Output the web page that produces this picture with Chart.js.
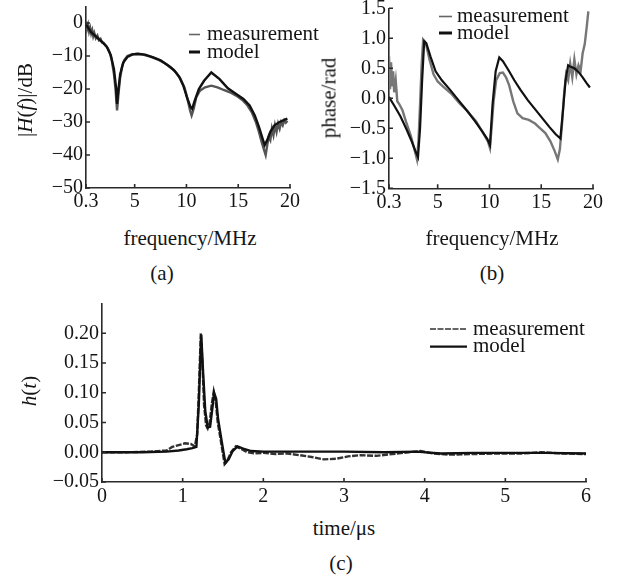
<!DOCTYPE html>
<html lang="en">
<head>
<meta charset="UTF-8">
<title>Channel response: measurement vs model</title>
<style>
  body { margin: 0; background: #fff; }
  #page { position: relative; width: 618px; height: 575px; overflow: hidden;
          font-family: "Liberation Serif", "Times New Roman", serif; color: #151515; }
  canvas { position: absolute; }
  .lbl { position: absolute; font-size: 21px; line-height: 1; white-space: nowrap;
         transform: translate(-50%, -50%); }
  .rot { transform: translate(-50%, -50%) rotate(-90deg); }
</style>
</head>
<body>
<div id="page">
  <canvas id="chartA" width="335" height="215" style="left:0;top:0"></canvas>
  <canvas id="chartB" width="318" height="215" style="left:300px;top:0"></canvas>
  <canvas id="chartC" width="618" height="225" style="left:0;top:290px"></canvas>

  <div class="lbl rot" style="left:25px;top:100px">|<i>H</i>(<i>f</i>)|/dB</div>
  <div class="lbl" style="left:190px;top:238px">frequency/MHz</div>
  <div class="lbl" style="left:162px;top:273px">(a)</div>

  <div class="lbl rot" style="left:329px;top:98px">phase/rad</div>
  <div class="lbl" style="left:492px;top:238px">frequency/MHz</div>
  <div class="lbl" style="left:492px;top:273px">(b)</div>

  <div class="lbl rot" style="left:29px;top:391px"><i>h</i>(<i>t</i>)</div>
  <div class="lbl" style="left:344px;top:528px">time/&mu;s</div>
  <div class="lbl" style="left:341px;top:563px">(c)</div>
</div>

<script src="https://cdn.jsdelivr.net/npm/chart.js"></script>
<script>
// ---- values ----
const seriesNames = ['measurement', 'model'];

// (a) magnitude |H(f)| in dB
const magFreqMeas = [0.3, 0.4, 0.5, 0.6, 0.7, 0.8, 0.9, 1.0, 1.1, 1.25, 1.4, 1.55, 1.7, 1.85, 2.0, 2.2, 2.4, 2.6, 2.8, 3.0,
  3.15, 3.3, 3.45, 3.6, 3.8, 4.0, 4.3, 4.7, 5.2, 5.8, 6.5, 7.2, 7.9, 8.5, 9.0, 9.4, 9.8, 10.1, 10.35, 10.5,
  10.7, 10.95, 11.3, 11.8, 12.4, 13.0, 13.6, 14.2, 14.8, 15.4, 15.9, 16.3, 16.7, 17.0, 17.3, 17.5, 17.65, 17.8, 17.95, 18.1,
  18.25, 18.4, 18.55, 18.7, 18.85, 19.0, 19.15, 19.3, 19.45, 19.6, 19.75];
const magMeas = [0.5, -1.8, -0.6, -2.6, -1.5, -3.2, -2.2, -4.0, -3.0, -4.6, -3.8, -5.2, -4.8, -5.9, -6.0, -6.8, -7.6, -9.0, -11.5, -15.5,
  -20, -26.5, -21, -16.5, -13, -11.2, -10, -9.5, -9.4, -9.6, -10.2, -11, -12.2, -13.5, -15, -16.8, -19.5, -23, -26.5, -28,
  -26, -22.5, -20.5, -19.5, -19, -19.5, -20.3, -21, -22, -23.3, -25, -27, -30, -33, -36.5, -38.5, -40, -37, -34.5, -35.5,
  -32, -34, -31, -33, -30.5, -32, -30, -31, -29.5, -30.2, -29.6];
const magFreqModel = [0.3, 0.8, 1.3, 1.8, 2.3, 2.7, 3.0, 3.2, 3.3, 3.4, 3.6, 3.9, 4.3, 4.8, 5.3, 6.0, 6.8, 7.5, 8.2, 8.8,
  9.3, 9.7, 10.1, 10.4, 10.55, 10.8, 11.2, 11.7, 12.4, 13.2, 14.0, 14.8, 15.5, 16.1, 16.6, 17.0, 17.3, 17.55, 17.8, 18.1,
  18.5, 19.0, 19.5, 19.75];
const magModel = [-0.5, -2.8, -4.2, -5.6, -7.2, -9.8, -14, -19.5, -24.5, -21, -15.5, -12, -10.3, -9.5, -9.3, -9.6, -10.4, -11.3, -12.8, -14.3,
  -16.3, -19, -23, -25.5, -26, -23.5, -20, -17.5, -15, -17, -19.8, -21.5, -23, -25, -28, -31.5, -34.5, -37, -35.5, -33,
  -31, -30, -29.3, -29];

// (b) phase in rad
const phaseFreqMeas = [0.3, 0.4, 0.5, 0.6, 0.7, 0.8, 0.95, 1.1, 1.3, 1.6, 2.0, 2.4, 2.75, 3.0, 3.15, 3.3, 3.45, 3.6, 3.75, 3.9,
  4.2, 4.6, 5.0, 5.5, 6.3, 7.1, 7.9, 8.7, 9.4, 9.85, 10.05, 10.2, 10.4, 10.65, 11.0, 11.3, 11.6, 11.9, 12.3, 12.7,
  13.2, 13.8, 14.4, 14.9, 15.4, 15.9, 16.3, 16.6, 16.8, 17.0, 17.2, 17.4, 17.6, 17.8, 18.0, 18.2, 18.4, 18.6, 18.8, 19.0,
  19.2, 19.4, 19.55];
const phaseMeas = [0.7, 0.15, 0.6, 0.2, 0.45, 0.1, 0.3, -0.05, -0.1, -0.2, -0.42, -0.62, -0.85, -1.02, -0.7, -0.1, 0.55, 0.98, 0.95, 0.88,
  0.65, 0.4, 0.28, 0.2, 0.08, -0.08, -0.22, -0.38, -0.58, -0.72, -0.83, -0.5, -0.05, 0.3, 0.42, 0.43, 0.35, 0.22, -0.05, -0.25,
  -0.33, -0.36, -0.42, -0.5, -0.58, -0.72, -0.88, -1.02, -0.85, -0.45, 0.05, 0.4, 0.3, 0.58, 0.35, 0.65, 0.4, 0.55, 0.45, 0.75,
  0.9, 1.2, 1.45];
const phaseFreqModel = [0.3, 0.8, 1.4, 2.0, 2.5, 2.9, 3.1, 3.3, 3.5, 3.7, 3.9, 4.3, 4.8, 5.4, 6.2, 7.0, 7.8, 8.6, 9.3, 9.8,
  10.05, 10.3, 10.6, 10.95, 11.3, 11.8, 12.4, 13.0, 13.7, 14.4, 15.1, 15.8, 16.4, 16.85, 17.1, 17.35, 17.6, 17.9, 18.2, 18.6,
  19.0, 19.4, 19.7];
const phaseModel = [0.02, -0.12, -0.3, -0.52, -0.72, -0.9, -0.98, -0.5, 0.3, 0.95, 0.92, 0.7, 0.45, 0.3, 0.14, -0.03, -0.2, -0.38, -0.55, -0.68,
  -0.78, -0.1, 0.45, 0.68, 0.62, 0.48, 0.3, 0.14, -0.03, -0.18, -0.33, -0.48, -0.6, -0.67, -0.2, 0.3, 0.55, 0.52, 0.5, 0.44,
  0.35, 0.25, 0.18];

// (c) impulse response h(t), t in us
const timeMeas = [0, 0.3, 0.6, 0.8, 0.87, 0.95, 1.03, 1.1, 1.15, 1.18, 1.2, 1.225, 1.245, 1.265, 1.29, 1.31, 1.335, 1.36, 1.385, 1.41,
  1.435, 1.46, 1.49, 1.52, 1.55, 1.6, 1.66, 1.72, 1.8, 1.9, 2.0, 2.15, 2.3, 2.45, 2.6, 2.75, 2.9, 3.05, 3.2, 3.4,
  3.6, 3.8, 3.95, 4.1, 4.3, 4.6, 4.9, 5.2, 5.45, 5.7, 6.0];
const hMeas = [0, 0, 0.001, 0.003, 0.009, 0.012, 0.015, 0.014, 0.01, 0.03, 0.1, 0.2, 0.15, 0.08, 0.045, 0.04, 0.05, 0.08, 0.102, 0.085,
  0.05, 0.03, 0.005, -0.02, -0.015, 0.0, 0.01, 0.006, 0.0, -0.002, -0.001, -0.003, -0.002, -0.005, -0.008, -0.012, -0.011, -0.007, -0.005, -0.006,
  -0.003, 0.0, 0.002, -0.002, -0.004, -0.003, -0.002, -0.002, 0.0, -0.002, -0.003];
const timeModel = [0, 0.5, 0.8, 0.95, 1.05, 1.12, 1.17, 1.2, 1.23, 1.255, 1.28, 1.31, 1.34, 1.365, 1.39, 1.415, 1.44, 1.47, 1.5, 1.53,
  1.57, 1.62, 1.68, 1.75, 1.85, 2.0, 2.5, 3.0, 3.5, 3.9, 4.2, 4.6, 5.0, 5.5, 6.0];
const hModel = [0, 0, 0.001, 0.003, 0.005, 0.007, 0.009, 0.08, 0.198, 0.13, 0.07, 0.042, 0.043, 0.07, 0.1, 0.09, 0.055, 0.03, 0.005, -0.018,
  -0.012, 0.002, 0.01, 0.006, 0.002, 0.001, 0.001, 0.001, 0.0, 0.001, -0.002, -0.001, -0.001, -0.001, -0.002];

// tick values
const freqTicks = [0.3, 5, 10, 15, 20];
const magTicks = [-50, -40, -30, -20, -10, 0];
const phaseTicks = [-1.5, -1.0, -0.5, 0, 0.5, 1.0, 1.5];
const timeTicks = [0, 1, 2, 3, 4, 5, 6];
const hTicks = [-0.05, 0, 0.05, 0.10, 0.15, 0.20];

const FONT = '"Liberation Serif", "Times New Roman", serif';
const INK = '#151515';
const minus = s => s.replace('-', '\u2212');

function pts(xs, ys) {
  return xs.map((x, i) => ({ x: x, y: ys[i] }));
}

// short tick marks pointing into the plot, like the original figure
const inwardTicks = {
  id: 'inwardTicks',
  afterDraw(chart) {
    const ctx = chart.ctx, a = chart.chartArea;
    const sx = chart.scales.x, sy = chart.scales.y;
    ctx.save();
    ctx.strokeStyle = '#2a2a2a';
    ctx.lineWidth = 1.6;
    ctx.beginPath();
    sx.ticks.forEach(t => {
      const p = sx.getPixelForValue(t.value);
      ctx.moveTo(p, a.bottom); ctx.lineTo(p, a.bottom - 4);
    });
    sy.ticks.forEach(t => {
      const p = sy.getPixelForValue(t.value);
      ctx.moveTo(a.left, p); ctx.lineTo(a.left + 4, p);
    });
    ctx.stroke();
    ctx.restore();
  }
};

// legend drawn at a fixed spot inside the plot
const paperLegend = {
  id: 'paperLegend',
  afterDraw(chart, args, opts) {
    const ctx = chart.ctx;
    ctx.save();
    ctx.font = '21px ' + FONT;
    ctx.textBaseline = 'middle';
    chart.data.datasets.forEach((ds, i) => {
      const y = opts.y + i * opts.row;
      ctx.strokeStyle = ds.keyColor || ds.borderColor;
      ctx.lineWidth = ds.keyWidth || ds.borderWidth;
      ctx.setLineDash(ds.borderDash || []);
      ctx.beginPath();
      ctx.moveTo(opts.x, y);
      ctx.lineTo(opts.x + opts.len, y);
      ctx.stroke();
      ctx.setLineDash([]);
      ctx.fillStyle = INK;
      ctx.fillText(ds.label, opts.x + opts.len + opts.gap, y);
    });
    ctx.restore();
  }
};

// area = plot rectangle inside the canvas {l, t, r, b}
function makeChart(id, area, xCfg, yCfg, datasets, legend) {
  const canvas = document.getElementById(id);
  const w = canvas.width, h = canvas.height;
  const axis = (cfg, fix) => ({
    type: 'linear',
    min: cfg.min,
    max: cfg.max,
    grid: { display: false, drawTicks: false },
    border: { display: true, color: '#2a2a2a', width: 1.6 },
    ticks: {
      color: INK,
      font: { family: FONT, size: 20 },
      padding: cfg.pad,
      autoSkip: false,
      maxRotation: 0,
      callback: cfg.fmt
    },
    afterBuildTicks: s => { s.ticks = cfg.ticks.map(v => ({ value: v })); },
    afterFit: fix
  });
  return new Chart(canvas, {
    type: 'line',
    data: { datasets: datasets },
    options: {
      responsive: false,
      animation: false,
      events: [],
      layout: { padding: { left: 0, top: area.t, right: w - area.r, bottom: 0 } },
      elements: { point: { radius: 0 }, line: { tension: 0 } },
      scales: {
        x: axis(xCfg, s => { s.height = h - area.b; s.paddingLeft = 0; s.paddingRight = 0; }),
        y: axis(yCfg, s => { s.width = area.l; s.paddingTop = 0; s.paddingBottom = 0; })
      },
      plugins: {
        legend: { display: false },
        tooltip: { enabled: false },
        paperLegend: legend
      }
    },
    plugins: [inwardTicks, paperLegend]
  });
}

const freqAxis = { min: 0.3, max: 20, ticks: freqTicks, pad: 2, fmt: v => String(v) };

// (a)
makeChart('chartA', { l: 86, t: 6.5, r: 290, b: 188 },
  freqAxis,
  { min: -50, max: 5, ticks: magTicks, pad: 3, fmt: v => minus(String(v)) },
  [
    { label: seriesNames[0], data: pts(magFreqMeas, magMeas), borderColor: '#555', borderWidth: 2.4,
      keyWidth: 1.6, keyColor: '#666', order: 1 },
    { label: seriesNames[1], data: pts(magFreqModel, magModel), borderColor: '#111', borderWidth: 2.4,
      keyWidth: 3, order: 0 }
  ],
  { x: 189, y: 34.5, row: 17.5, len: 11, gap: 7 });

// (b)
makeChart('chartB', { l: 89, t: 8.3, r: 293, b: 188.3 },
  freqAxis,
  { min: -1.5, max: 1.5, ticks: phaseTicks, pad: 3, fmt: v => minus(v.toFixed(1)) },
  [
    { label: seriesNames[0], data: pts(phaseFreqMeas, phaseMeas), borderColor: '#777', borderWidth: 2.4,
      keyWidth: 1.6, keyColor: '#666', order: 1 },
    { label: seriesNames[1], data: pts(phaseFreqModel, phaseModel), borderColor: '#111', borderWidth: 2.2,
      keyWidth: 3, order: 0 }
  ],
  { x: 139, y: 16.5, row: 16.5, len: 13, gap: 5 });

// (c)
makeChart('chartC', { l: 102, t: 13.5, r: 586, b: 192 },
  { min: 0, max: 6, ticks: timeTicks, pad: 2.5, fmt: v => String(v) },
  { min: -0.05, max: 0.25, ticks: hTicks, pad: 3, fmt: v => minus(v.toFixed(2)) },
  [
    { label: seriesNames[0], data: pts(timeMeas, hMeas), borderColor: '#333', borderWidth: 2.4,
      borderDash: [6, 1.5], keyWidth: 1.6, order: 1 },
    { label: seriesNames[1], data: pts(timeModel, hModel), borderColor: '#111', borderWidth: 2.4,
      keyWidth: 2.2, order: 0 }
  ],
  { x: 430, y: 39, row: 17.7, len: 37, gap: 6 });
</script>
</body>
</html>
